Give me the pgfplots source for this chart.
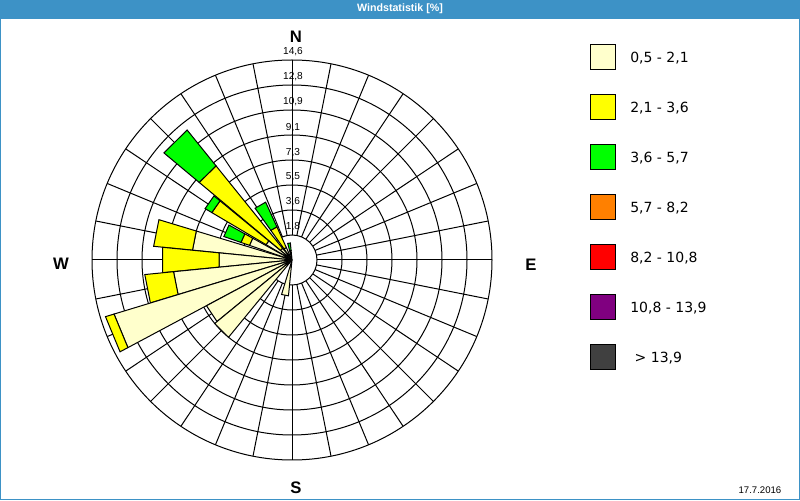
\documentclass[border=0pt]{standalone}
\usepackage{fontspec}
\setmainfont{DejaVu Sans}
\newfontfamily\lib{Liberation Sans}
\usepackage{pgfplots}
\pgfplotsset{compat=1.18}
\definecolor{lyel}{RGB}{255,255,204}
\definecolor{yel}{RGB}{255,255,0}
\definecolor{grn}{RGB}{0,255,0}
\definecolor{org}{RGB}{255,128,0}
\definecolor{rd}{RGB}{255,0,0}
\definecolor{prp}{RGB}{128,0,128}
\definecolor{dgr}{RGB}{64,64,64}
\definecolor{titleblue}{RGB}{61,146,198}
% one segment of a wind rose bar: colour, compass direction, half width, inner %, outer %
\newcommand{\wseg}[5]{%
  \pgfmathsetmacro{\pa}{90-(#2)-(#3)}%
  \pgfmathsetmacro{\pb}{90-(#2)+(#3)}%
  \addplot[fill=#1,draw=black,line width=0.75pt] coordinates {(\pa,#4) (\pb,#4) (\pb,#5) (\pa,#5)} -- cycle;}
\begin{document}
\begin{tikzpicture}[x=0.75pt,y=0.75pt]
\useasboundingbox (0,0) rectangle (800,500);
\fill[white] (0,0) rectangle (800,500);
\fill[titleblue] (0,481) rectangle (800,500);
\draw[titleblue,line width=1pt] (0.7,0.7) rectangle (799.3,499.3);
\node[text=white,font=\lib\bfseries\fontsize{8}{9}\selectfont] at (400,491) {Windstatistik [\%]};
% grid
\begin{scope}[shift={(292,240)}]
  \foreach \k in {1,...,8} \draw[line width=0.75pt] (0,0) circle[radius=25*\k];
  \foreach \a in {0,11.25,...,350} \draw[line width=0.75pt] (\a:25) -- (\a:200);
\end{scope}
\begin{axis}[at={(219pt,180pt)},anchor=center,x=10.274pt,y=10.274pt,hide axis,clip=false,
  xmin=-15,xmax=15,ymin=-15,ymax=15,data cs=polar]
% direction 350
\wseg{lyel}{350}{4.5}{0}{0.25}
\wseg{yel}{350}{4.5}{0.25}{0.7}
\wseg{grn}{350}{4.5}{0.7}{1.25}
% direction 330
\wseg{lyel}{330}{5.5}{0}{1.0}
\wseg{yel}{330}{5.5}{1.0}{2.66}
\wseg{grn}{330}{5.5}{2.66}{4.64}
% direction 315.5
\wseg{lyel}{315.5}{5.6}{0}{1.1}
\wseg{yel}{315.5}{5.6}{1.1}{8.83}
\wseg{grn}{315.5}{5.6}{8.83}{12.19}
% direction 305
\wseg{lyel}{305}{4.4}{0}{2.2}
\wseg{yel}{305}{4.4}{2.2}{6.8}
\wseg{grn}{305}{4.4}{6.8}{7.37}
% direction 294
\wseg{lyel}{294}{5.0}{0}{3.28}
\wseg{yel}{294}{5.0}{3.28}{3.94}
\wseg{grn}{294}{5.0}{3.94}{5.26}
% direction 281.25
\wseg{lyel}{281.25}{5.6}{0}{7.3}
\wseg{yel}{281.25}{5.6}{7.3}{10.15}
% direction 270
\wseg{lyel}{270}{5.6}{0}{5.35}
\wseg{yel}{270}{5.6}{5.35}{9.49}
% direction 258.75
\wseg{lyel}{258.75}{5.6}{0}{8.69}
\wseg{yel}{258.75}{5.6}{8.69}{10.8}
% direction 247.5
\wseg{lyel}{247.5}{5.6}{0}{13.58}
\wseg{yel}{247.5}{5.6}{13.58}{14.23}
% direction 236.25
\wseg{lyel}{236.25}{5.6}{0}{7.08}
% direction 225
\wseg{lyel}{225}{5.6}{0}{7.3}
% direction 191.25
\wseg{lyel}{191.25}{5.6}{0}{2.63}
\end{axis}
% ring labels
\begin{scope}[font=\lib\fontsize{7.6}{9}\selectfont]
  \node at (293,448) {14,6};
  \node at (293,423) {12,8};
  \node at (293,398) {10,9};
  \node at (293,372) {9,1};
  \node at (293,347) {7,3};
  \node at (293,323) {5,5};
  \node at (293,298) {3,6};
  \node at (293,273) {1,8};
\end{scope}
% compass letters
\begin{scope}[font=\lib\bfseries\fontsize{12.5}{14}\selectfont]
  \node at (296,463) {N};
  \node at (296,12) {S};
  \node at (61,236) {W};
  \node at (531,235) {E};
\end{scope}
% legend
\begin{scope}[font=\fontsize{10.5}{12}\selectfont]
  \foreach \c/\t [count=\i from 0] in {lyel/{0,5 - 2,1},yel/{2,1 - 3,6},grn/{3,6 - 5,7},org/{5,7 - 8,2},rd/{8,2 - 10,8},prp/{10,8 - 13,9},dgr/{\ > 13,9}} {
    \draw[fill=\c,line width=0.75pt] (590.5,{455-50*\i}) rectangle (615.5,{430-50*\i});
    \node[anchor=west,inner sep=0pt] at (630,{441.5-50*\i}) {\t};
  }
\end{scope}
\node[anchor=east,font=\lib\fontsize{7.2}{8}\selectfont] at (786,10) {17.7.2016};
\end{tikzpicture}
\end{document}
